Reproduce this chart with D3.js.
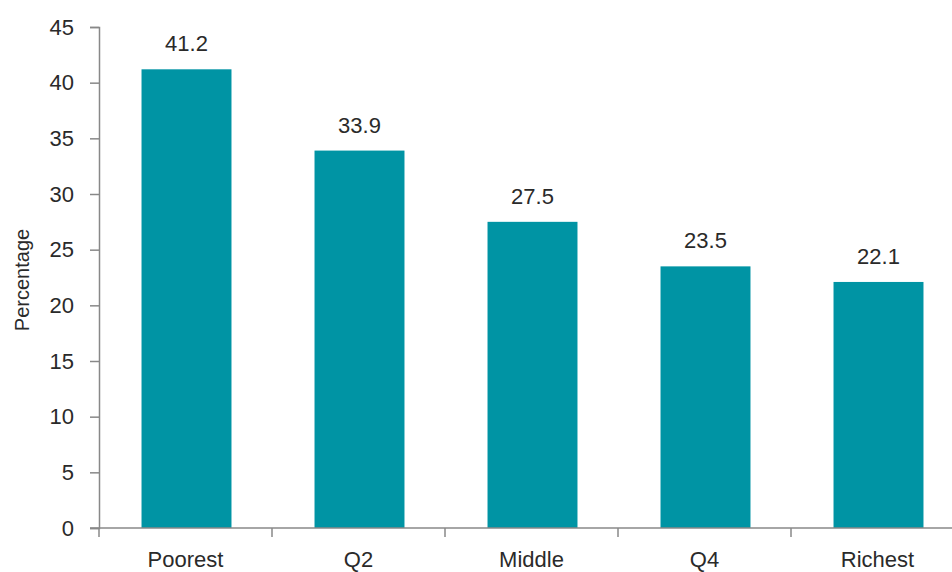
<!DOCTYPE html>
<html>
<head>
<meta charset="utf-8">
<script src="https://cdn.jsdelivr.net/npm/d3@7"></script>
<style>
  body { margin: 0; background: #fff; }
  text { font-family: "Liberation Sans", Arial, sans-serif; fill: #2a2a2a; }
</style>
</head>
<body>
<div class="chart"></div>
<script>
const categories = ['Poorest', 'Q2', 'Middle', 'Q4', 'Richest'];
const values = [41.2, 33.9, 27.5, 23.5, 22.1];
const yTicks = [0, 5, 10, 15, 20, 25, 30, 35, 40, 45];

const width = 952;
const height = 572;

const svg = d3.select('.chart')
  .append('svg')
  .attr('width', width)
  .attr('height', height);

const x = d3.scaleBand()
  .domain(categories)
  .range([99, 964])
  .paddingInner(0.48)
  .paddingOuter(0.24);

const y = d3.scaleLinear()
  .domain([0, 45])
  .range([528, 27]);

// bars
svg.selectAll('rect.bar')
  .data(values)
  .enter()
  .append('rect')
  .attr('class', 'bar')
  .attr('x', (d, i) => x(categories[i]) + 1)
  .attr('y', d => y(d))
  .attr('width', x.bandwidth())
  .attr('height', d => y(0) - y(d))
  .attr('fill', '#0094a4');

// value labels
svg.selectAll('text.val')
  .data(values)
  .enter()
  .append('text')
  .attr('class', 'val')
  .attr('x', (d, i) => x(categories[i]) + 1 + x.bandwidth() / 2)
  .attr('y', d => y(d) - 18)
  .attr('text-anchor', 'middle')
  .style('font-size', '22px')
  .text(d => d.toFixed(1));

// y axis
const yAxis = svg.append('g')
  .attr('transform', 'translate(99,0)')
  .call(d3.axisLeft(y).tickValues(yTicks).tickSize(9).tickPadding(16));
yAxis.select('.domain').attr('stroke', '#888').attr('stroke-width', 1.5);
yAxis.selectAll('.tick line').attr('stroke', '#888').attr('stroke-width', 1.5);
yAxis.selectAll('.tick text')
  .style('font-size', '22px')
  .style('font-family', '"Liberation Sans", Arial, sans-serif')
  .attr('fill', '#2a2a2a');

// x axis baseline with ticks between bands
const xBase = svg.append('g');
xBase.append('line')
  .attr('x1', 90).attr('x2', width)
  .attr('y1', y(0)).attr('y2', y(0))
  .attr('stroke', '#888').attr('stroke-width', 1.5);
const bounds = categories.map(c => x(c) - x.step() * x.paddingInner() / 2);
bounds[0] = 99;
xBase.selectAll('line.tk')
  .data(bounds)
  .enter()
  .append('line')
  .attr('class', 'tk')
  .attr('x1', d => d).attr('x2', d => d)
  .attr('y1', y(0)).attr('y2', y(0) + 9)
  .attr('stroke', '#888').attr('stroke-width', 1.5);

xBase.selectAll('text.cat')
  .data(categories)
  .enter()
  .append('text')
  .attr('class', 'cat')
  .attr('x', d => x(d) + x.bandwidth() / 2)
  .attr('y', 567)
  .attr('text-anchor', 'middle')
  .style('font-size', '22px')
  .text(d => d);

// y axis title
svg.append('text')
  .attr('transform', 'translate(29,280) rotate(-90)')
  .attr('text-anchor', 'middle')
  .style('font-size', '20px')
  .text('Percentage');
</script>
</body>
</html>
